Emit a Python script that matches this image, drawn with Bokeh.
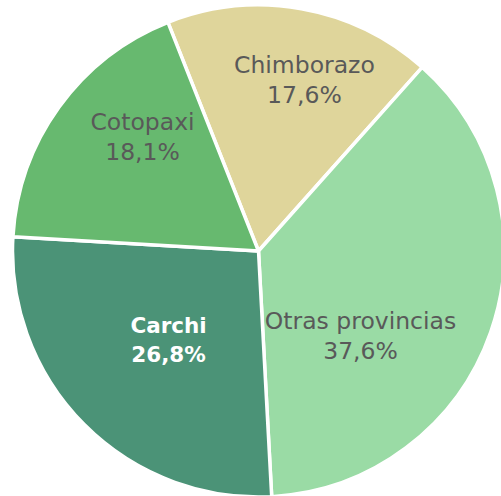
import math
from bokeh.plotting import figure
from bokeh.models import ColumnDataSource, Range1d
from bokeh.core.properties import value
from bokeh.embed import file_html
from bokeh.resources import INLINE

# ---- data ----
provinces = ["Chimborazo", "Otras provincias", "Carchi", "Cotopaxi"]
shares = [17.6, 37.6, 26.8, 18.1]
share_labels = ["17,6%", "37,6%", "26,8%", "18,1%"]

# ---- style / layout ----
colors = ["#DFD59B", "#9ADBA5", "#4B9377", "#67B96F"]
text_colors = ["#595959", "#595959", "#FFFFFF", "#595959"]
text_styles = ["normal", "normal", "bold", "normal"]
text_sizes = ["23.5px", "23.5px", "21.5px", "23.5px"]
W, H = 501, 496
CX, CY, R = 258, 245.5, 246
ROT_DEG = 21.6  # first slice starts this many degrees left of 12 o'clock
# label anchor in polar form: (degrees clockwise from 12 o'clock, distance px)
label_polar = [(15.8, 168.6), (132.6, 138.6), (222.6, 132.9), (312.1, 156.3)]
LINE_HALF = 14.75
TEXT_SHIFT = 9  # px upward correction for baseline rendering

total = sum(shares)
starts, ends = [], []
cum = 0.0
for s in shares:
    a0 = math.pi / 2 + math.radians(ROT_DEG) - cum / total * 2 * math.pi
    a1 = a0 - s / total * 2 * math.pi
    starts.append(a0)
    ends.append(a1)
    cum += s

wsrc = ColumnDataSource(dict(x=[CX] * 4, y=[CY] * 4, start=starts, end=ends,
                             color=colors, name=provinces))

lx, ly = [], []
for th, d in label_polar:
    t = math.radians(th)
    lx.append(CX + d * math.sin(t))
    ly.append(CY + d * math.cos(t) + TEXT_SHIFT)

tsrc = ColumnDataSource(dict(x=lx, y=ly, name=provinces, pct=share_labels,
                             tc=text_colors, ts=text_styles, fs=text_sizes))

p = figure(width=W, height=H, x_range=Range1d(0, W), y_range=Range1d(0, H),
           output_backend="svg", toolbar_location=None,
           x_axis_location=None, y_axis_location=None, min_border=0)
p.grid.visible = False
p.outline_line_color = None
p.background_fill_color = "white"
p.border_fill_color = "white"

p.wedge(x="x", y="y", radius=R, start_angle="start", end_angle="end",
        direction="clock", fill_color="color", line_color="white",
        line_width=3.5, source=wsrc)

p.text(x="x", y="y", text="name", source=tsrc, text_align="center",
       text_baseline="alphabetic", y_offset=-LINE_HALF,
       text_font=value("DejaVu Sans"), text_font_size="fs",
       text_color="tc", text_font_style="ts")
p.text(x="x", y="y", text="pct", source=tsrc, text_align="center",
       text_baseline="alphabetic", y_offset=LINE_HALF,
       text_font=value("DejaVu Sans"), text_font_size="fs",
       text_color="tc", text_font_style="ts")

open("out.html", "w").write(file_html(p, INLINE))
